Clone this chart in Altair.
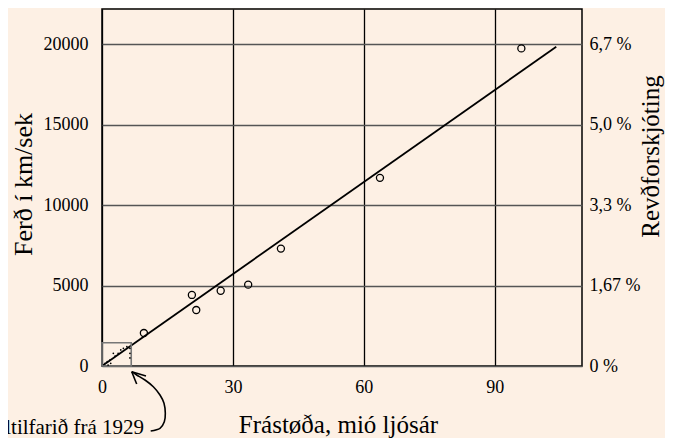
import altair as alt
import pandas as pd

# Galaxies: distance (million light years) and velocity (km/s)
dist = [9.6, 20.6, 21.6, 27.2, 33.5, 41.0, 63.7, 96.1]
vel = [2050, 4420, 3480, 4680, 5060, 7300, 11700, 19750]

# fitted line
fit_x = [0, 104.1]
fit_y = [0, 19850]

# original 1929 data (tiny dots inside the small box)
orig_x = [0.7, 1.2, 1.4, 1.8, 2.0, 2.6, 3.0, 3.7, 4.3, 4.9, 5.7, 6.4, 6.4, 6.4]
orig_y = [170, 270, 60, 370, 170, 790, 620, 790, 1000, 1100, 1200, 1100, 790, 500]

# small box around the original data
box_x = [0, 6.7]
box_y = [0, 1450]

# curved arrow (tail to tip) and arrow head
arrow_x = [11.16, 13.29, 14.28, 14.51, 14.21, 13.29, 11.76, 9.85, 7.95, 6.81]
arrow_y = [-4043, -3876, -3465, -2942, -2320, -1804, -1288, -871, -560, -355]
head_x = [6.81, 6.81]
head_y = [-355, -355]
head_x2 = [7.95, 10.08]
head_y2 = [-1120, -622]

note_text = ["Upprunaltilfarið frá 1929"]
note_x = [9.63]
note_y = [-3857]

x_ticks = [0, 30, 60, 90]
y_ticks = [0, 5000, 10000, 15000, 20000]
pct_labels = ["0 %", "1,67 %", "3,3 %", "5,0 %", "6,7 %"]

FONT = "Liberation Serif"
BG = "#fdf0e4"

xscale = alt.Scale(domain=[0, 110], nice=False, zero=False)
yscale = alt.Scale(domain=[0, 22200], nice=False, zero=False)

pts = pd.DataFrame({"x": dist, "y": vel})
fit = pd.DataFrame({"x": fit_x, "y": fit_y})
orig = pd.DataFrame({"x": orig_x, "y": orig_y})
box = pd.DataFrame({"x": [box_x[0]], "x2": [box_x[1]], "y": [box_y[0]], "y2": [box_y[1]]})
arrow = pd.DataFrame({"x": arrow_x, "y": arrow_y, "i": list(range(len(arrow_x)))})
head = pd.DataFrame({"x": head_x, "y": head_y, "x2": head_x2, "y2": head_y2})
note = pd.DataFrame({"x": note_x, "y": note_y, "t": note_text})

x_axis = alt.Axis(
    values=x_ticks, labelFontSize=18, labelPadding=12, ticks=False, domain=False,
    labelFlush=False, grid=True, gridColor="black", gridWidth=1.3,
    title="Frástøða, mió ljósár", titleFontSize=25, titleFontWeight="normal",
    titleY=66, titleX=236, titleBaseline="alphabetic", titleAlign="center",
)
y_axis = alt.Axis(
    values=y_ticks, format="d", labelFontSize=18, labelPadding=14, ticks=False,
    domain=False, labelFlush=False, grid=True, gridColor="#555555", gridWidth=1.3,
    title="Ferð í km/sek", titleFontSize=26, titleFontWeight="normal",
    titleX=-71, titleY=175, titleAngle=270, titleBaseline="alphabetic", titleAlign="center",
)

expr = "''"
for v, lab in reversed(list(zip(y_ticks, pct_labels))):
    expr = f"datum.value == {v} ? '{lab}' : ({expr})"

y_axis_r = alt.Axis(
    orient="right", values=y_ticks, labelExpr=expr, labelFontSize=18, labelPadding=7,
    ticks=False, domain=False, labelFlush=False, grid=False,
    title="Revðforskjóting", titleFontSize=25, titleFontWeight="normal",
    titleX=76, titleY=147, titleAngle=270, titleBaseline="alphabetic", titleAlign="center",
)


def X():
    return alt.X("x:Q", scale=xscale, axis=x_axis)


def Y():
    return alt.Y("y:Q", scale=yscale, axis=y_axis)


line = alt.Chart(fit).mark_line(color="black", strokeWidth=1.8).encode(x=X(), y=Y())
points = alt.Chart(pts).mark_point(
    shape="circle", filled=False, size=50, color="black", strokeWidth=1.3, opacity=1
).encode(x=X(), y=Y())
dots = alt.Chart(orig).mark_circle(size=3, color="black", opacity=1).encode(x=X(), y=Y())
rect = alt.Chart(box).mark_rect(filled=False, stroke="#777777", strokeWidth=1.6).encode(
    x=X(), x2="x2:Q", y=Y(), y2="y2:Q"
)
curve = alt.Chart(arrow).mark_line(
    color="black", strokeWidth=1.6, interpolate="cardinal", clip=False
).encode(x=X(), y=Y(), order="i:Q")
heads = alt.Chart(head).mark_rule(color="black", strokeWidth=1.6, clip=False).encode(
    x=X(), x2="x2:Q", y=Y(), y2="y2:Q"
)
label = alt.Chart(note).mark_text(
    align="right", baseline="middle", font=FONT, fontSize=21, color="black", clip=False
).encode(x=X(), y=Y(), text="t:N")

main = alt.layer(line, rect, dots, points, curve, heads, label)

right = alt.Chart(pts).mark_point(opacity=0).encode(
    x=X(),
    y=alt.Y("y:Q", scale=yscale, axis=y_axis_r),
)

chart = alt.layer(main, right).resolve_scale(y="independent").properties(
    width=480, height=357,
    autosize=alt.AutoSizeParams(type="none"),
    padding={"left": 94, "top": 1, "right": 83, "bottom": 72},
    background=BG,
).configure_view(
    stroke="black", strokeWidth=1.5,
).configure_axis(
    labelFont=FONT, titleFont=FONT, labelColor="black", titleColor="black",
).configure_text(font=FONT)

chart.save("out.html", embed_options={"renderer": "svg", "actions": False})
